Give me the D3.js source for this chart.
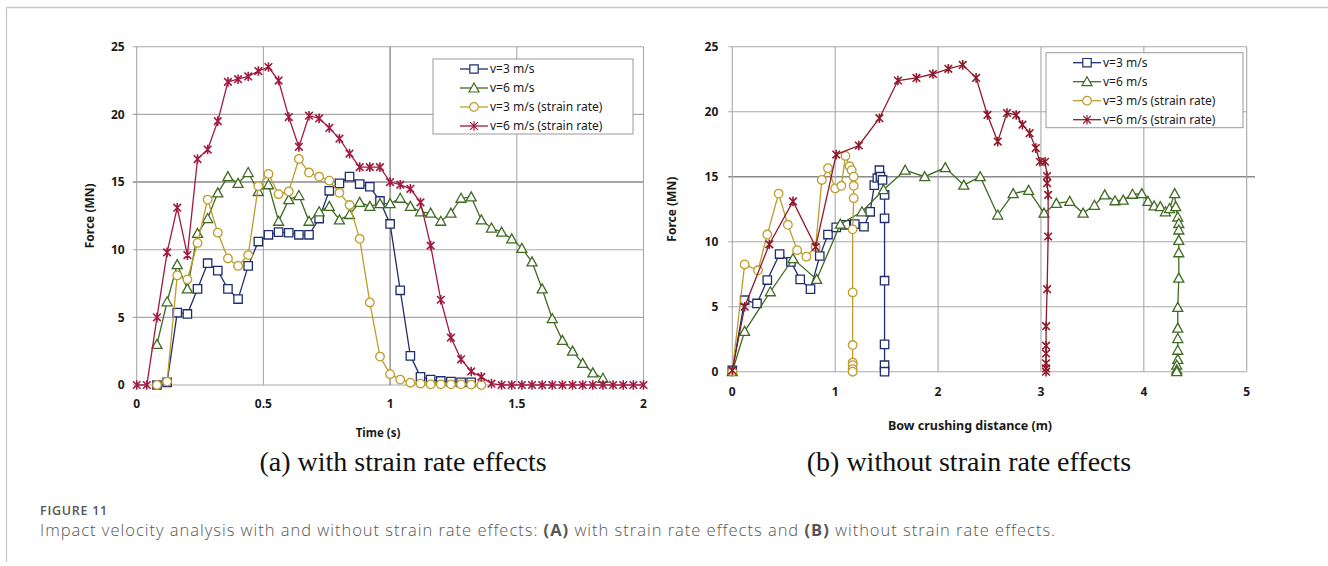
<!DOCTYPE html>
<html>
<head>
<meta charset="utf-8">
<script src="https://cdn.jsdelivr.net/npm/d3@7"></script>
<style>
  body { margin: 0; background: #fff; }
  svg text { font-family: "Noto Sans", sans-serif; }
</style>
</head>
<body>
<svg id="fig" width="1328" height="566"></svg>
<script>
//======
// Data
//======

// (a) force vs time, sampled every 0.04 s
var timeA = [0, 0.04, 0.08, 0.12, 0.16, 0.2, 0.24, 0.28, 0.32, 0.36, 0.4, 0.44, 0.48, 0.52, 0.56, 0.6,
  0.64, 0.68, 0.72, 0.76, 0.8, 0.84, 0.88, 0.92, 0.96, 1.0, 1.04, 1.08, 1.12, 1.16, 1.2, 1.24, 1.28,
  1.32, 1.36, 1.4, 1.44, 1.48, 1.52, 1.56, 1.6, 1.64, 1.68, 1.72, 1.76, 1.8, 1.84, 1.88, 1.92, 1.96, 2.0];

var v3A = [null, null, 0, 0.2, 5.35, 5.25, 7.1, 9.0, 8.45, 7.1, 6.35, 8.8, 10.6, 11.1, 11.3, 11.25,
  11.1, 11.1, 12.3, 14.35, 14.9, 15.4, 14.85, 14.65, 13.6, 11.9, 7.0, 2.15, 0.6, 0.4, 0.3, 0.25, 0.2,
  0.2, null, null, null, null, null, null, null, null, null, null, null, null, null, null, null, null, null];

var v6A = [null, null, 3.0, 6.15, 8.9, 7.1, 11.2, 12.3, 14.2, 15.4, 14.9, 15.7, 14.3, 14.8, 12.1, 13.7,
  14.0, 12.1, 12.8, 13.2, 12.2, 12.6, 13.5, 13.2, 13.4, 13.4, 13.8, 13.2, 12.8, 12.7, 12.1, 12.7, 13.8,
  13.9, 12.2, 11.6, 11.3, 10.8, 10.1, 9.1, 7.1, 4.9, 3.3, 2.5, 1.6, 0.9, 0.5, null, null, null, null];

var v3srA = [null, null, 0, 0.25, 8.1, 7.8, 10.5, 13.7, 11.25, 9.35, 8.8, 9.6, 14.7, 15.6, 14.1, 14.3,
  16.7, 15.7, 15.4, 15.1, 14.2, 13.3, 10.8, 6.1, 2.1, 0.8, 0.4, 0.17, 0.1, 0.05, 0.05, 0.05, 0.05,
  0.03, 0, null, null, null, null, null, null, null, null, null, null, null, null, null, null, null, null];

var v6srA = [0, 0, 5.0, 9.8, 13.1, 9.6, 16.7, 17.4, 19.5, 22.4, 22.6, 22.8, 23.2, 23.5, 22.5, 19.8,
  17.6, 19.9, 19.7, 19.0, 18.2, 17.1, 16.1, 16.1, 16.1, 15.0, 14.8, 14.5, 13.5, 10.3, 6.3, 3.5, 1.9,
  1.0, 0.6, 0.1, 0, 0, 0, 0, 0, 0, 0, 0, 0, 0, 0, 0, 0, 0, 0];

// (b) force vs bow crushing distance
var v3B_d = [0, 0.12, 0.24, 0.34, 0.46, 0.57, 0.66, 0.76, 0.85, 0.93, 1.01, 1.10, 1.19, 1.28, 1.34, 1.38,
  1.41, 1.43, 1.44, 1.46, 1.48, 1.48, 1.48, 1.48, 1.48, 1.48];
var v3B_f = [0.1, 5.5, 5.25, 7.05, 9.05, 8.45, 7.1, 6.35, 8.9, 10.55, 11.1, 11.3, 11.35, 11.15, 12.3, 14.35,
  14.9, 15.5, 15.0, 14.75, 13.6, 11.8, 7.0, 2.1, 0.5, 0];

var v6B_d = [0, 0.12, 0.37, 0.59, 0.82, 1.05, 1.26, 1.47, 1.68, 1.87, 2.07, 2.25, 2.41, 2.58, 2.73, 2.88,
  3.03, 3.15, 3.28, 3.41, 3.52, 3.62, 3.72, 3.80, 3.89, 3.98, 4.04, 4.10, 4.16, 4.21, 4.25, 4.30, 4.31,
  4.33, 4.34, 4.34, 4.34, 4.34, 4.34, 4.33, 4.33, 4.33, 4.33, 4.33, 4.32, 4.32, 4.32];
var v6B_f = [0, 3.1, 6.15, 8.7, 7.1, 11.35, 12.3, 14.0, 15.5, 15.0, 15.7, 14.35, 15.0, 12.05, 13.7, 13.95,
  12.2, 12.95, 13.1, 12.2, 12.8, 13.6, 13.15, 13.2, 13.65, 13.7, 13.1, 12.75, 12.7, 12.3, 12.55, 13.7, 12.7,
  11.9, 11.4, 10.9, 10.1, 9.15, 7.2, 4.95, 3.35, 2.55, 1.65, 0.95, 0.5, 0.15, 0];

var v3srB_d = [0, 0.12, 0.25, 0.34, 0.45, 0.54, 0.63, 0.72, 0.81, 0.87, 0.93, 1.00, 1.06, 1.10, 1.14, 1.16,
  1.18, 1.18, 1.18, 1.17, 1.17, 1.17, 1.17, 1.17, 1.17, 1.17];
var v3srB_f = [0, 8.25, 7.8, 10.55, 13.7, 11.3, 9.35, 8.85, 9.6, 14.75, 15.65, 14.1, 14.3, 16.6, 15.8, 15.5,
  15.0, 14.3, 13.35, 10.95, 6.1, 2.05, 0.7, 0.5, 0.2, 0];

var v6srB_d = [0, 0.12, 0.36, 0.59, 0.81, 1.01, 1.23, 1.43, 1.61, 1.79, 1.95, 2.10, 2.24, 2.37, 2.48, 2.58,
  2.67, 2.76, 2.82, 2.89, 2.95, 2.99, 3.04, 3.06, 3.06, 3.07, 3.07, 3.06, 3.05, 3.05, 3.05, 3.05, 3.05, 3.05];
var v6srB_f = [0.1, 5.0, 9.8, 13.1, 9.6, 16.7, 17.4, 19.5, 22.4, 22.6, 22.9, 23.3, 23.6, 22.6, 19.75, 17.7,
  19.9, 19.75, 19.0, 18.35, 17.2, 16.15, 16.15, 15.05, 14.5, 13.6, 10.4, 6.35, 3.5, 2.0, 1.4, 0.65, 0.25, 0];

var legendLabels = ["v=3 m/s", "v=6 m/s", "v=3 m/s (strain rate)", "v=6 m/s (strain rate)"];
var forceTicks = [0, 5, 10, 15, 20, 25];
var timeTicks = [0, 0.5, 1, 1.5, 2];
var distTicks = [0, 1, 2, 3, 4, 5];

//=========
// Drawing
//=========

var svg = d3.select("#fig");

// page frame
svg.append("line").attr("x1", 6.5).attr("x2", 1328).attr("y1", 7.5).attr("y2", 7.5)
  .attr("stroke", "#c8c8c8").attr("stroke-width", 1.3);
svg.append("line").attr("x1", 6.5).attr("x2", 6.5).attr("y1", 7.5).attr("y2", 562)
  .attr("stroke", "#c8c8c8").attr("stroke-width", 1.3);

var markerShapes = {
  square: "M-4.2,-4.2H4.2V4.2H-4.2Z",
  triangle: "M0,-5L5,4H-5Z",
  circle: d3.symbol().type(d3.symbolCircle).size(58)(),
  star: "M-3.8,-3.8L3.8,3.8M-3.8,3.8L3.8,-3.8M0,-4.8V4.8"
};

function drawPanel(opts) {
  var x = d3.scaleLinear().domain(opts.xDomain).range(opts.xRange);
  var y = d3.scaleLinear().domain([0, 25]).range(opts.yRange);
  var g = svg.append("g");

  // gridlines
  g.selectAll(".hgrid").data(forceTicks).enter().append("line")
    .attr("x1", x.range()[0] - 4).attr("x2", function(d) { return d === 15 ? opts.grid15End : x.range()[1]; })
    .attr("y1", function(d) { return y(d); }).attr("y2", function(d) { return y(d); })
    .attr("stroke", function(d) { return d === 15 ? "#8a8a8a" : "#a8a8a8"; })
    .attr("stroke-width", function(d) { return d === 15 ? 1.4 : 1.1; });
  g.selectAll(".vgrid").data(opts.xTicks).enter().append("line")
    .attr("x1", function(d) { return x(d); }).attr("x2", function(d) { return x(d); })
    .attr("y1", y(0)).attr("y2", y(25))
    .attr("stroke", function(d) { return d === opts.darkX ? "#8a8a8a" : "#a8a8a8"; })
    .attr("stroke-width", function(d) { return d === opts.darkX ? 1.4 : 1.1; });

  // tick labels
  g.selectAll(".ylab").data(forceTicks).enter().append("text")
    .attr("x", x.range()[0] - opts.yPad).attr("y", function(d) { return y(d); })
    .attr("dy", "0.35em").attr("text-anchor", "end")
    .attr("font-size", 12).attr("font-weight", "bold").attr("fill", "#1a1a1a")
    .text(function(d) { return d; });
  g.selectAll(".xlab").data(opts.xTicks).enter().append("text")
    .attr("x", function(d) { return x(d); }).attr("y", y(0) + opts.xPad)
    .attr("dy", "0.35em").attr("text-anchor", "middle")
    .attr("font-size", 12).attr("font-weight", "bold").attr("fill", "#1a1a1a")
    .text(function(d) { return d; });

  // axis titles
  g.append("text")
    .attr("transform", "translate(" + opts.yTitleX + "," + ((y(0) + y(25)) / 2) + ") rotate(-90)")
    .attr("text-anchor", "middle").attr("dy", "0.35em")
    .attr("font-size", 12).attr("font-weight", "bold").attr("fill", "#1a1a1a")
    .text("Force (MN)");
  g.append("text")
    .attr("x", opts.xTitleX).attr("y", opts.xTitleY).attr("dy", "0.35em")
    .attr("text-anchor", "middle")
    .attr("font-size", opts.xTitleSize).attr("font-weight", "bold").attr("fill", "#1a1a1a")
    .text(opts.xTitle);

  // series
  var line = d3.line()
    .defined(function(d) { return d[1] != null; })
    .x(function(d) { return x(d[0]); })
    .y(function(d) { return y(d[1]); });

  opts.series.forEach(function(s) {
    var pts = s.xs.map(function(v, i) { return [v, s.ys[i]]; });
    g.append("path").datum(pts)
      .attr("d", line).attr("fill", "none")
      .attr("stroke", s.color).attr("stroke-width", 1.3);
    g.selectAll(null).data(pts.filter(function(d) { return d[1] != null; }))
      .enter().append("path")
      .attr("transform", function(d) { return "translate(" + x(d[0]) + "," + y(d[1]) + ")"; })
      .attr("d", markerShapes[s.shape])
      .attr("fill", s.shape === "star" ? "none" : "#fff")
      .attr("stroke", s.color).attr("stroke-width", s.shape === "star" ? 1.6 : 1.3);
  });

  // legend
  var lg = g.append("g").attr("transform", "translate(" + opts.legend[0] + "," + opts.legend[1] + ")");
  lg.append("rect").attr("width", opts.legend[2]).attr("height", 75)
    .attr("fill", "#fff").attr("stroke", "#9a9a9a").attr("stroke-width", 1);
  opts.series.forEach(function(s, i) {
    var ly = 10 + i * 19;
    lg.append("line").attr("x1", 27).attr("x2", 55).attr("y1", ly).attr("y2", ly)
      .attr("stroke", s.color).attr("stroke-width", 1.3);
    lg.append("path").attr("transform", "translate(41," + ly + ")")
      .attr("d", markerShapes[s.shape])
      .attr("fill", s.shape === "star" ? "none" : "#fff")
      .attr("stroke", s.color).attr("stroke-width", 1.2);
    lg.append("text").attr("x", 57).attr("y", ly).attr("dy", "0.35em")
      .attr("font-size", 12).attr("fill", "#1a1a1a")
      .text(legendLabels[i]);
  });
}

drawPanel({
  xDomain: [0, 2], xRange: [136.7, 643.5], yRange: [385, 46.7],
  xTicks: timeTicks, darkX: 1, grid15End: 643.5,
  yPad: 12, xPad: 19, yTitleX: 90, xTitle: "Time (s)", xTitleX: 378, xTitleY: 433, xTitleSize: 11.5,
  legend: [433, 59, 200],
  series: [
    { xs: timeA, ys: v3A, color: "#1f2d6e", shape: "square" },
    { xs: timeA, ys: v6A, color: "#3f6b22", shape: "triangle" },
    { xs: timeA, ys: v3srA, color: "#bd9d2a", shape: "circle" },
    { xs: timeA, ys: v6srA, color: "#a31a40", shape: "star" }
  ]
});

drawPanel({
  xDomain: [0, 5], xRange: [732.3, 1246.7], yRange: [371.7, 46.7],
  xTicks: distTicks, darkX: -1, grid15End: 1255,
  yPad: 14, xPad: 20, yTitleX: 672, xTitle: "Bow crushing distance (m)", xTitleX: 970, xTitleY: 426, xTitleSize: 12.5,
  legend: [1046, 52.7, 197],
  series: [
    { xs: v3B_d, ys: v3B_f, color: "#1f2d6e", shape: "square" },
    { xs: v6B_d, ys: v6B_f, color: "#3f6b22", shape: "triangle" },
    { xs: v3srB_d, ys: v3srB_f, color: "#bd9d2a", shape: "circle" },
    { xs: v6srB_d, ys: v6srB_f, color: "#8e1a2c", shape: "star" }
  ]
});

// panel subtitles
svg.append("text").attr("x", 403).attr("y", 471).attr("text-anchor", "middle")
  .style("font-family", "'Liberation Serif', 'Times New Roman', serif")
  .attr("font-size", 28).attr("fill", "#111").text("(a) with strain rate effects");
svg.append("text").attr("x", 969).attr("y", 471).attr("text-anchor", "middle")
  .style("font-family", "'Liberation Serif', 'Times New Roman', serif")
  .attr("font-size", 28).attr("fill", "#111").text("(b) without strain rate effects");

// caption, stretched to the width it has in the figure
function fitWidth(sel, target) {
  var n = sel.text().length;
  var w = sel.node().getComputedTextLength();
  sel.attr("letter-spacing", ((target - w) / n).toFixed(3));
}

var fig = svg.append("text").attr("x", 40).attr("y", 514.5)
  .style("font-family", "'Open Sans', sans-serif")
  .attr("font-size", 12.5).attr("font-weight", 600).attr("fill", "#555")
  .text("FIGURE 11");
fitWidth(fig, 68);

var cap = svg.append("text").attr("x", 40).attr("y", 535.5)
  .style("font-family", "'Open Sans', sans-serif")
  .attr("font-size", 16.5).attr("font-weight", 300).attr("fill", "#555");
cap.append("tspan").text("Impact velocity analysis with and without strain rate effects: ");
cap.append("tspan").attr("font-weight", 700).text("(A)");
cap.append("tspan").text(" with strain rate effects and ");
cap.append("tspan").attr("font-weight", 700).text("(B)");
cap.append("tspan").text(" without strain rate effects.");
fitWidth(cap, 1016);
</script>
</body>
</html>
